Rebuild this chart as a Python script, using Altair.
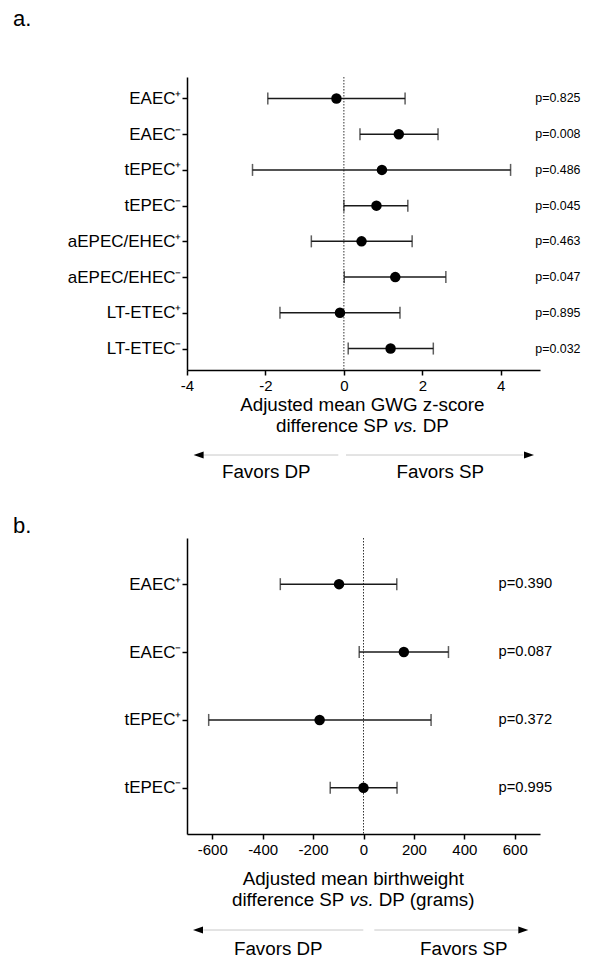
import altair as alt
import pandas as pd

FONT = "Liberation Sans"

# ---- panel a data ----
top_labels = ["EAEC⁺", "EAEC⁻", "tEPEC⁺", "tEPEC⁻", "aEPEC/EHEC⁺", "aEPEC/EHEC⁻", "LT-ETEC⁺", "LT-ETEC⁻"]
top_est = [-0.19, 1.40, 0.97, 0.83, 0.45, 1.31, -0.10, 1.19]
top_lo = [-1.94, 0.41, -2.33, 0.00, -0.83, 0.01, -1.63, 0.11]
top_hi = [1.56, 2.40, 4.25, 1.63, 1.74, 2.60, 1.43, 2.28]
top_p = ["p=0.825", "p=0.008", "p=0.486", "p=0.045", "p=0.463", "p=0.047", "p=0.895", "p=0.032"]
top_ticks = [-4, -2, 0, 2, 4]
top_domain = [-4, 5]

# ---- panel b data ----
bot_labels = ["EAEC⁺", "EAEC⁻", "tEPEC⁺", "tEPEC⁻"]
bot_est = [-97, 160, -174, 0]
bot_lo = [-330, -17, -614, -132]
bot_hi = [132, 337, 268, 133]
bot_p = ["p=0.390", "p=0.087", "p=0.372", "p=0.995"]
bot_ticks = [-600, -400, -200, 0, 200, 400, 600]
bot_domain = [-700, 700]

W = 353
one = pd.DataFrame({"k": [0]})


def txt(s, x, y, size=18.8, align="center", style="normal", baseline="alphabetic"):
    return alt.Chart(one).mark_text(
        text=s, font=FONT, fontSize=size, align=align, baseline=baseline,
        fontStyle=style, color="black"
    ).encode(x=alt.value(x), y=alt.value(y))


def rule(x1, x2, y, color="#c8c8c8", w=1):
    return alt.Chart(one).mark_rule(color=color, strokeWidth=w).encode(
        x=alt.value(x1), x2=alt.value(x2), y=alt.value(y))


def head(x, y, left=True):
    shape = "M -1 0 L 1 -0.7 L 1 0.7 Z" if left else "M 1 0 L -1 -0.7 L -1 0.7 Z"
    return alt.Chart(one).mark_point(shape=shape, filled=True, size=100, color="black",
                                     opacity=1, strokeWidth=0).encode(
        x=alt.value(x), y=alt.value(y))


def panel(labels, est, lo, hi, pv, domain, ticks, height, pad, pfont, px, extra):
    df = pd.DataFrame({"label": labels, "est": est, "lo": lo, "hi": hi, "p": pv})
    base = alt.Chart(df)
    ysc = alt.Scale(type="point", padding=pad)
    yax = alt.Axis(title=None, labelFontSize=17, labelPadding=1, tickSize=5,
                   labelFont=FONT, labelColor="black")
    y = alt.Y("label:N", sort=labels, scale=ysc, axis=yax)
    xsc = alt.Scale(domain=domain, nice=False, zero=False)
    xax = alt.Axis(values=ticks, title=None, labelFontSize=15, labelPadding=3, tickSize=5,
                   grid=False, labelFont=FONT, labelColor="black", labelFlush=False,
                   labelExpr="toString(datum.value)")

    zero = alt.Chart(one).mark_rule(strokeDash=[1.5, 1.5], strokeWidth=1, color="#333").encode(
        x=alt.datum(0, scale=xsc, axis=xax))
    bars = base.mark_rule(color="#1a1a1a", strokeWidth=1.5).encode(
        x=alt.X("lo:Q", scale=xsc, axis=xax), x2="hi:Q", y=y)
    cap_lo = base.mark_tick(color="#1a1a1a", size=12, thickness=1.5).encode(
        x=alt.X("lo:Q", scale=xsc, axis=xax), y=y)
    cap_hi = base.mark_tick(color="#1a1a1a", size=12, thickness=1.5).encode(
        x=alt.X("hi:Q", scale=xsc, axis=xax), y=y)
    pts = base.mark_circle(size=110, color="black", opacity=1).encode(
        x=alt.X("est:Q", scale=xsc, axis=xax), y=y)
    ptxt = base.mark_text(align="left", baseline="middle", font=FONT, fontSize=pfont,
                          color="black").encode(x=alt.value(px), y=y, text="p:N")
    return alt.layer(zero, bars, cap_lo, cap_hi, pts, ptxt, *extra).properties(
        width=W, height=height)


H_TOP = 293
top_extra = [
    txt("a.", -174, -51, size=22, align="left"),
    txt("Adjusted mean GWG z-score", 175.3, 334),
    txt("difference SP", 201.4, 355, align="right"),
    txt("vs.", 206.6, 355, align="left", style="italic"),
    txt("DP", 235.8, 355, align="left"),
    rule(16.3, 151.3, 378),
    rule(159, 336.3, 378),
    head(11.6, 378, True),
    head(342, 378, False),
    txt("Favors DP", 79.3, 401.3),
    txt("Favors SP", 253.3, 401.3),
]
top = panel(top_labels, top_est, top_lo, top_hi, top_p, top_domain, top_ticks,
            H_TOP, 0.6, 12.4, 348.3, top_extra)

H_BOT = 296
bot_extra = [
    txt("b.", -174, -5, size=22, align="left"),
    txt("Adjusted mean birthweight", 166.3, 347),
    txt("difference SP", 157.4, 368, align="right"),
    txt("vs.", 162.6, 368, align="left", style="italic"),
    txt("DP (grams)", 191.8, 368, align="left"),
    rule(16.3, 176.3, 392),
    rule(187.3, 331.3, 392),
    head(11, 392, True),
    head(336.3, 392, False),
    txt("Favors DP", 91.3, 417),
    txt("Favors SP", 276.8, 417),
]
bot = panel(bot_labels, bot_est, bot_lo, bot_hi, bot_p, bot_domain, bot_ticks,
            H_BOT, 0.68, 14.7, 311.6, bot_extra)

chart = alt.vconcat(top, bot, spacing=168, bounds="flush").resolve_scale(
    x="independent", y="independent"
).properties(
    padding={"left": 13, "top": 8, "right": 5, "bottom": 5},
    background="white",
).configure_view(stroke=None).configure_axis(
    domainColor="black", domainWidth=1.5, tickColor="black", tickWidth=1.5,
)

chart.save("out.html", embed_options={"renderer": "svg", "actions": False})
